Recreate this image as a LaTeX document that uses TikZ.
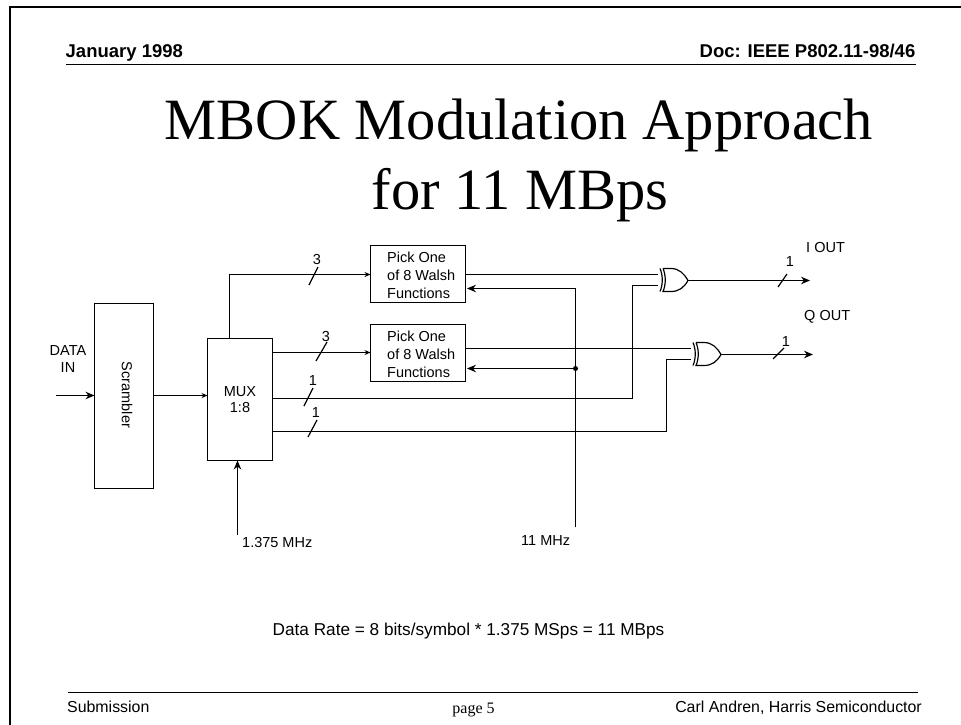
\documentclass[tikz,border=0pt]{standalone}
\usepackage{fontspec}
\setmainfont{Liberation Sans}
\newfontfamily\serifface{Liberation Serif}
\usetikzlibrary{arrows.meta}
\tikzset{
  box/.style={draw,line width=1.2pt,inner sep=0pt,outer sep=0pt,align=center},
  lbl/.style={inner sep=0pt,font=\fontsize{14.5}{16.5}\selectfont,align=center},
  foot/.style={inner sep=0pt,font=\fontsize{15.9}{18}\selectfont},
  head/.style={inner sep=0pt,font=\fontsize{18.5}{20}\selectfont\bfseries},
  titletxt/.style={anchor=base,inner sep=0pt,font=\fontsize{58.5}{70}\selectfont\serifface},
  big/.style={-{Stealth[length=9pt,width=7.5pt]},line width=1.2pt},
  small/.style={-{Stealth[length=6pt,width=5pt]},line width=1.2pt},
  wire/.style={line width=1.2pt},
  xorgate/.pic={
    \coordinate (-in1) at (0,-6);
    \coordinate (-in2) at (0,5);
    \coordinate (-out) at (30,0);
    \draw[wire] (5,-12)--(13,-12) .. controls (21,-12) and (26,-7) .. (30,0)
      .. controls (26,7) and (21,11) .. (13,11)--(5,11)
      .. controls (8,4) and (8,-5) .. (5,-12);
    \draw[wire] (2,-12) .. controls (5,-5) and (5,4) .. (2,11);
  }
}
\begin{document}
\begin{tikzpicture}[x=1pt,y=-1pt]
\useasboundingbox (0,0) rectangle (961,725);
% frame and rules
\draw[line width=2pt](10,725)--(10,7)--(961,7);
\draw[line width=1.5pt](66,64.5)--(916,64.5);
\draw[line width=1.2pt](68,692.5)--(917.5,692.5);
% header and footer
\node[head,anchor=base west] (date) at (65.5,58) {January 1998};
\node[head,anchor=base east] (doc) at (915.5,58) {Doc: IEEE P802.11-98/46};
\node[foot,anchor=base west] (subm) at (67,712) {Submission};
\node[foot,anchor=base,font=\fontsize{16}{18}\selectfont\serifface] (page) at (473.5,713) {page 5};
\node[foot,anchor=base east] (name) at (922,712) {Carl Andren, Harris Semiconductor};
% title
\node[titletxt] (titlea) at (519,139) {MBOK Modulation Approach};
\node[titletxt] (titleb) at (520,209) {for 11 MBps};
% blocks
\node[box,minimum width=59pt,minimum height=185pt,anchor=north west] (scr) at (94.5,303.5) {};
\node[lbl,rotate=-90] (scrtxt) at (127,395) {Scrambler};
\node[box,minimum width=65pt,minimum height=122pt,anchor=north west,font=\fontsize{14.5}{16.7}\selectfont] (mux) at (207.5,338.5) {MUX\\1:8};
\node[box,minimum width=95pt,minimum height=57pt,anchor=north west] (picka) at (370.5,245.5) {};
\node[box,minimum width=95pt,minimum height=57pt,anchor=north west] (pickb) at (370.5,324.5) {};
\node[lbl,anchor=west,align=left,font=\fontsize{14.5}{18}\selectfont] (pickatxt) at (387,275) {Pick One\\of 8 Walsh\\Functions};
\node[lbl,anchor=west,align=left,font=\fontsize{14.5}{18}\selectfont] (pickbtxt) at (387,354.5) {Pick One\\of 8 Walsh\\Functions};
\pic (xa) at (658,280.5) {xorgate};
\pic (xb) at (691,354.5) {xorgate};
% free ends and wire rows
\coordinate (din) at (56,395.5);
\coordinate (ratea) at (237.5,535);
\coordinate (clk) at (575.5,527);
\coordinate (clka) at (575.5,288.5);
\coordinate (clkb) at (575.5,368.5);
\coordinate (ioutend) at (810,280.5);
\coordinate (qoutend) at (813,354.5);
\coordinate (rowa) at (229.5,274.5);
\coordinate (rowb) at (0,352.5);
\coordinate (rowc) at (632.5,398.5);
\coordinate (rowd) at (666.5,431.5);
% labels
\node[lbl] (datain) at (68,359) {DATA\\IN};
\node[lbl,anchor=west] (ratelbl) at (242,543) {1.375 MHz};
\node[lbl,anchor=west] (clklbl) at (521,541) {11 MHz};
\node[lbl,anchor=west] (iout) at (806,248) {I OUT};
\node[lbl,anchor=west] (qout) at (804,317) {Q OUT};
\node[anchor=base west,inner sep=0pt,font=\fontsize{17.2}{20}\selectfont] (rate) at (272.5,635) {Data Rate = 8 bits/symbol * 1.375 MSps = 11 MBps};
% connections
\draw[big](din)--(din-|scr.west);
\draw[small](din-|scr.east)--(din-|mux.west);
\draw[big](ratea)--(ratea|-mux.south);
\draw[small](rowa|-mux.north)--(rowa)--(rowa-|picka.west);
\draw[small](rowb-|mux.east)--(rowb-|pickb.west);
\draw[wire](picka.east|-xa-in1)--(xa-in1);
\draw[wire](pickb.east|-xb-in1)--(xb-in1);
\draw[wire](rowc-|mux.east)--(rowc)--(rowc|-xa-in2)--(xa-in2);
\draw[wire](rowd-|mux.east)--(rowd)--(rowd|-xb-in2)--(xb-in2);
\draw[big](xa-out)--(ioutend);
\draw[big](xb-out)--(qoutend);
\draw[wire](clk)--(clka);
\draw[big](clka)--(467,288.5);
\draw[big](clkb)--(467,368.5);
\fill(clkb)circle(2.5pt);
% bus marks
\draw[wire](309,285)--(318,267);
\draw[wire](316,361)--(327,342);
\draw[wire](304,406)--(313,388);
\draw[wire](308,437)--(317,420);
\draw[wire](778,287)--(787,274);
\draw[wire](773,359)--(784,348);
\node[lbl] (na) at (317,260) {3};
\node[lbl] (nb) at (326,337) {3};
\node[lbl] (nc) at (313,381) {1};
\node[lbl] (nd) at (316,413) {1};
\node[lbl] (ne) at (790,262) {1};
\node[lbl] (nf) at (786,342) {1};
\end{tikzpicture}
\end{document}
